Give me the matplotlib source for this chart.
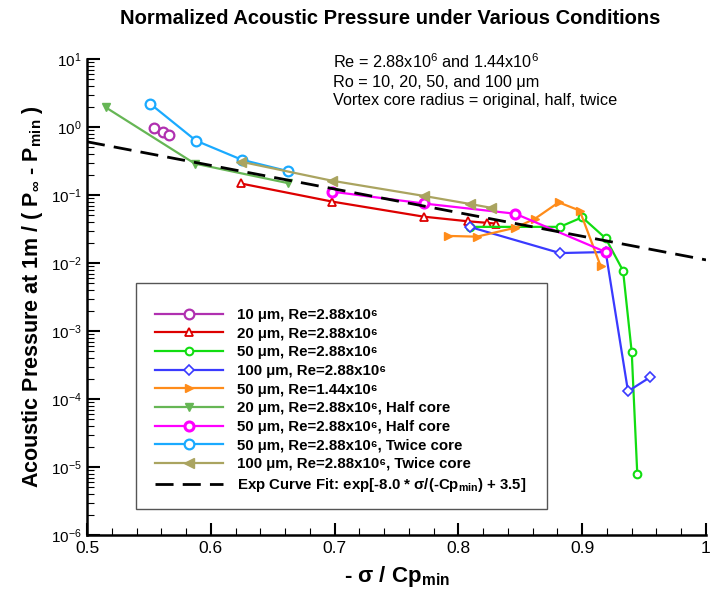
import numpy as np
import matplotlib
matplotlib.use("Agg")
import matplotlib.pyplot as plt
from matplotlib.patches import Rectangle
from matplotlib.ticker import LogLocator, MultipleLocator, NullFormatter

plt.rcParams['font.family'] = ['Liberation Sans', 'DejaVu Sans']
plt.rcParams['mathtext.fontset'] = 'custom'
plt.rcParams['mathtext.rm'] = 'Liberation Sans'
plt.rcParams['mathtext.it'] = 'Liberation Sans:italic'
plt.rcParams['mathtext.bf'] = 'Liberation Sans:bold'

# ---- data ----
x_10um = [0.554, 0.561, 0.566]
y_10um = [0.98, 0.84, 0.77]

x_20um = [0.624, 0.698, 0.772, 0.808, 0.823, 0.830]
y_20um = [0.148, 0.080, 0.048, 0.041, 0.039, 0.038]

x_50um = [0.809, 0.882, 0.900, 0.919, 0.933, 0.940, 0.9445]
y_50um = [0.034, 0.034, 0.047, 0.023, 0.0077, 4.9e-4, 7.8e-6]

x_100um = [0.809, 0.882, 0.919, 0.937, 0.955]
y_100um = [0.034, 0.014, 0.0145, 1.3e-4, 2.1e-4]

x_50um_lowRe = [0.792, 0.815, 0.846, 0.862, 0.881, 0.898, 0.915]
y_50um_lowRe = [0.025, 0.0244, 0.033, 0.045, 0.078, 0.059, 0.0089]

x_20um_half = [0.515, 0.587, 0.662]
y_20um_half = [1.95, 0.29, 0.15]

x_50um_half = [0.698, 0.772, 0.846, 0.919]
y_50um_half = [0.112, 0.075, 0.053, 0.0145]

x_50um_twice = [0.551, 0.588, 0.625, 0.662]
y_50um_twice = [2.2, 0.63, 0.33, 0.225]

x_100um_twice = [0.624, 0.698, 0.772, 0.809, 0.826]
y_100um_twice = [0.31, 0.162, 0.097, 0.074, 0.065]

fit_slope = -8.0
fit_intercept = 3.5
x_fit = np.array([0.5, 1.0])
y_fit = np.exp(fit_slope * x_fit + fit_intercept)

labels = [
    "10 μm, Re=2.88x10⁶",
    "20 μm, Re=2.88x10⁶",
    "50 μm, Re=2.88x10⁶",
    "100 μm, Re=2.88x10⁶",
    "50 μm, Re=1.44x10⁶",
    "20 μm, Re=2.88x10⁶, Half core",
    "50 μm, Re=2.88x10⁶, Half core",
    "50 μm, Re=2.88x10⁶, Twice core",
    "100 μm, Re=2.88x10⁶, Twice core",
    "Exp Curve Fit: exp[-8.0 * σ/(-Cp$_{\\mathbf{min}}$) + 3.5]",
]

fig = plt.figure(figsize=(7.10, 5.93), dpi=100)
ax = fig.add_axes([87/710, 1-535/593, (706-87)/710, (535-59)/593])

lw = 1.6
series = [
    (x_10um, y_10um, '#B030B0', 'o', 'white', 7, 1.6),
    (x_20um, y_20um, '#DD0000', '^', 'white', 5.5, 1.3),
    (x_50um, y_50um, '#11DD11', 'o', 'white', 5.5, 1.5),
    (x_100um, y_100um, '#3A3AFF', 'D', 'white', 5.5, 1.2),
    (x_50um_lowRe, y_50um_lowRe, '#FF8C1A', '>', '#FF8C1A', 6, 1.0),
    (x_20um_half, y_20um_half, '#66B655', 'v', '#66B655', 6, 1.0),
    (x_50um_half, y_50um_half, '#FF00FF', 'o', 'white', 6.5, 2.2),
    (x_50um_twice, y_50um_twice, '#1AAAFF', 'o', 'white', 7, 1.6),
    (x_100um_twice, y_100um_twice, '#AAA460', '<', '#AAA460', 6.5, 1.0),
]

for i, (xs, ys, c, m, mfc, ms, mew) in enumerate(series):
    ax.plot(xs, ys, color=c, lw=lw, marker=m, mfc=mfc, mec=c, ms=ms, mew=mew,
            linestyle='none' if i == 0 else '-', zorder=3)

hfit, = ax.plot(x_fit, y_fit, color='black', lw=2.0, dashes=(6.5, 3.3), zorder=4)

leg_handles = []
for (xs, ys, c, m, mfc, ms, mew) in series:
    lh, = ax.plot([], [], color=c, lw=lw, marker=m, mfc=mfc, mec=c, ms=ms, mew=mew)
    leg_handles.append(lh)
leg_handles.append(hfit)

ax.set_yscale('log')
ax.set_xlim(0.5, 1.0)
ax.set_ylim(1e-6, 1e1)

ax.xaxis.set_minor_locator(MultipleLocator(0.02))
ax.set_xticks([0.5, 0.6, 0.7, 0.8, 0.9, 1.0])
ax.set_xticklabels(['0.5', '0.6', '0.7', '0.8', '0.9', '1'])
ax.yaxis.set_major_locator(LogLocator(base=10, numticks=20))
ax.yaxis.set_minor_locator(LogLocator(base=10, subs=np.arange(2, 10), numticks=20))
ax.yaxis.set_minor_formatter(NullFormatter())
ax.xaxis.get_offset_text().set_visible(False)
ax.yaxis.get_offset_text().set_visible(False)

ax.tick_params(axis='both', which='major', direction='in', length=9, width=1.5,
               top=False, right=False, pad=4)
ax.tick_params(axis='x', which='major', labelsize=12.5)
ax.tick_params(axis='y', which='major', labelsize=11)
ax.tick_params(axis='both', which='minor', direction='in', length=5, width=0.8,
               top=False, right=False)
for side in ('top', 'right'):
    ax.spines[side].set_visible(False)
for side in ('left', 'bottom'):
    ax.spines[side].set_linewidth(1.8)

ax.set_xlabel("- σ / Cp$_{\\mathbf{min}}$", fontsize=16, fontweight='bold', labelpad=6)
ax.set_ylabel("Acoustic Pressure at 1m / ( P$_{\\mathbf{\\infty}}$ - P$_{\\mathbf{min}}$ )",
              fontsize=15.5, fontweight='bold', labelpad=4)
fig.text(390/710, 1-18/593, "Normalized Acoustic Pressure under Various Conditions",
         ha='center', va='center', fontsize=14.5, fontweight='bold')

ann_x = (333-87)/619
ax.text(ann_x, (535-62)/476, "Re = 2.88x10$^6$ and 1.44x10$^6$",
        transform=ax.transAxes, fontsize=11.7, va='center', ha='left')
ax.text(ann_x, (535-82)/476, "Ro = 10, 20, 50, and 100 μm",
        transform=ax.transAxes, fontsize=11.7, va='center', ha='left')
ax.text(ann_x, (535-100.5)/476, "Vortex core radius = original, half, twice",
        transform=ax.transAxes, fontsize=11.7, va='center', ha='left')

ax.add_patch(Rectangle(((136-87)/619, (535-509)/476), (547-136)/619, (509-283)/476,
                       transform=ax.transAxes, facecolor='white', edgecolor='#555555',
                       lw=1.0, zorder=5))
leg = ax.legend(leg_handles, labels, loc='upper left',
                bbox_to_anchor=((155-87)/619, (535-308)/476),
                frameon=False,
                prop={'weight': 'bold', 'size': 10.8,
                      'family': ['Liberation Sans', 'DejaVu Sans']},
                handlelength=4.5, handletextpad=0.95, labelspacing=0.31,
                borderpad=0.0, borderaxespad=0.0)
leg.set_zorder(6)

fig.savefig("out.png", dpi=100)
